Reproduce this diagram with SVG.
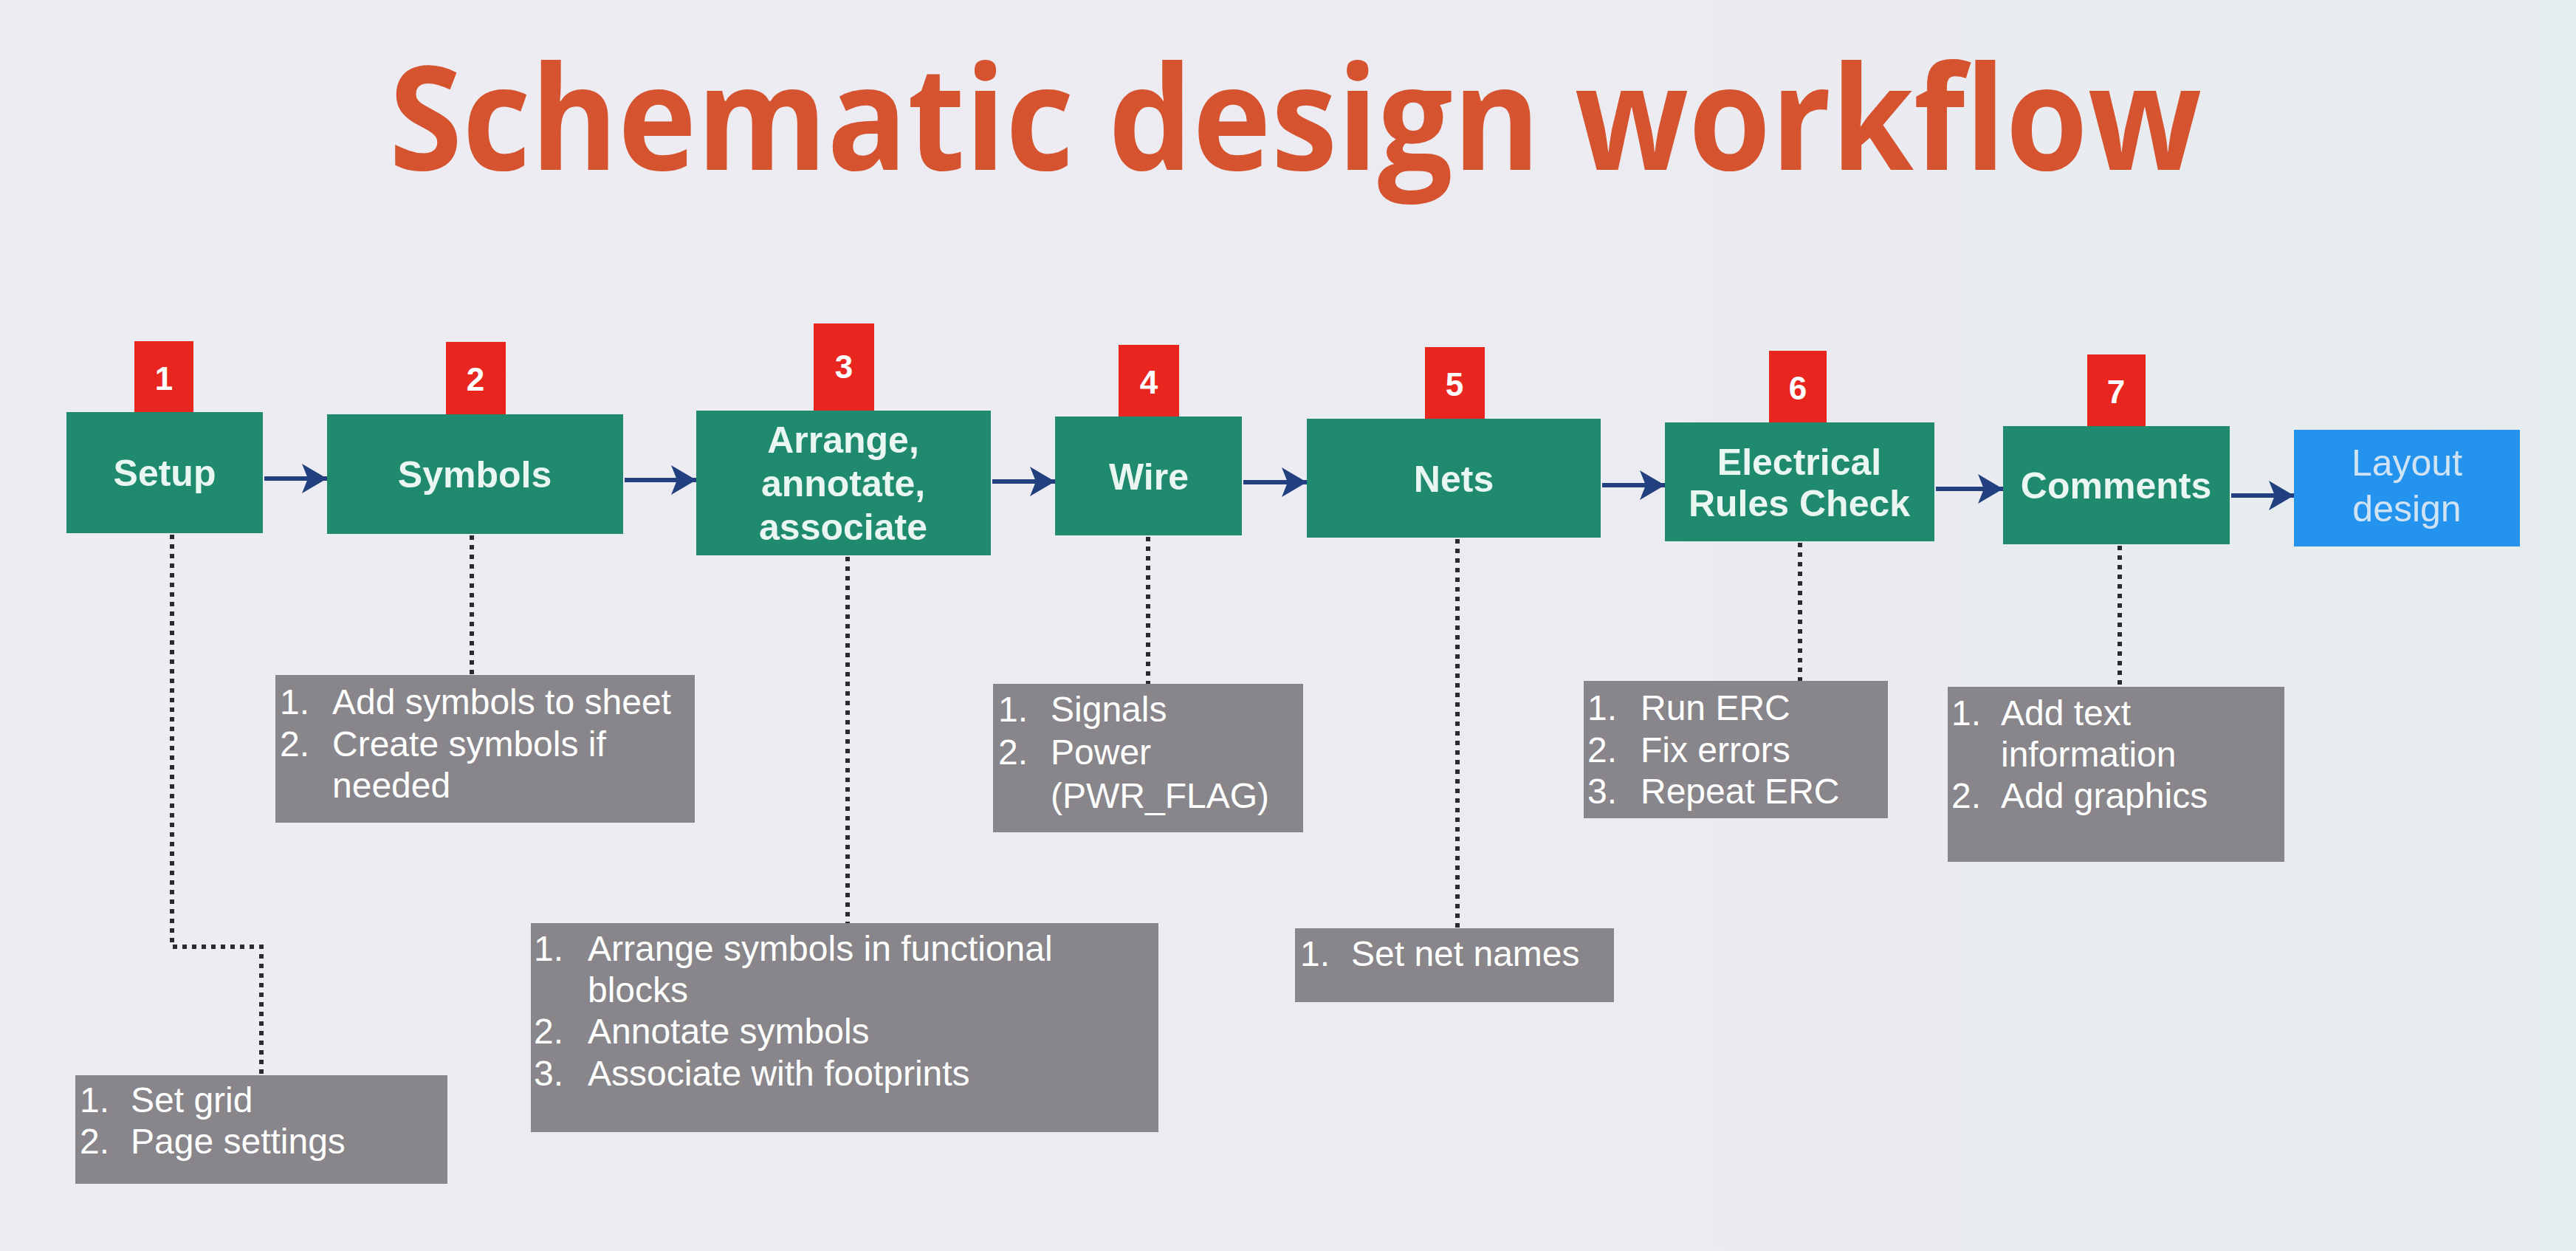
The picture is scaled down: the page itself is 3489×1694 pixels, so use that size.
<svg xmlns="http://www.w3.org/2000/svg" width="3489" height="1694" viewBox="0 0 3489 1694">
<defs>
<linearGradient id="bg" x1="0" y1="0" x2="1" y2="0">
<stop offset="0" stop-color="#EEECF3"/>
<stop offset="0.6" stop-color="#ECEBF2"/>
<stop offset="1" stop-color="#E5ECEE"/>
</linearGradient>
<marker id="arr" markerUnits="userSpaceOnUse" markerWidth="36" markerHeight="40" refX="34" refY="20" orient="auto">
<path d="M0,0 L34,20 L0,40 L8,20 Z" fill="#22407F"/>
</marker>
<style>
.step{fill:#1F8A6D}
.badge{fill:#E8251E}
.num{font-family:"Liberation Sans",Arial,sans-serif;font-weight:bold;font-size:44px;fill:#FFFFFF;text-anchor:middle}
.lbl{font-family:"Liberation Sans",Arial,sans-serif;font-weight:bold;font-size:50px;fill:#EAF6F2;text-anchor:middle}
.note{fill:#88868B}
.nt{font-family:"Liberation Sans",Arial,sans-serif;font-size:48px;fill:#FFFFFF}
.flow{stroke:#22407F;stroke-width:6;fill:none}
.dot{stroke:#2A2A32;stroke-width:6;fill:none;stroke-dasharray:6 7}
</style>
</defs>
<rect x="0" y="0" width="3489" height="1694" fill="url(#bg)"/>
<text x="527" y="230" font-family="'Open Sans',sans-serif" font-weight="bold" font-size="195" fill="#D5532F" textLength="2455" lengthAdjust="spacingAndGlyphs">Schematic design workflow</text>

<g id="connectors">
<path class="flow" d="M358,648 H443" marker-end="url(#arr)"/>
<path class="flow" d="M846,650 H943" marker-end="url(#arr)"/>
<path class="flow" d="M1344,652 H1429" marker-end="url(#arr)"/>
<path class="flow" d="M1684,653 H1770" marker-end="url(#arr)"/>
<path class="flow" d="M2170,657 H2255" marker-end="url(#arr)"/>
<path class="flow" d="M2622,662 H2713" marker-end="url(#arr)"/>
<path class="flow" d="M3022,671 H3107" marker-end="url(#arr)"/>
<path class="dot" d="M233,724 V1282 H354 V1456"/>
<path class="dot" d="M639,725 V914"/>
<path class="dot" d="M1148,754 V1250"/>
<path class="dot" d="M1555,727 V926"/>
<path class="dot" d="M1974,730 V1257"/>
<path class="dot" d="M2438,735 V922"/>
<path class="dot" d="M2871,739 V930"/>
</g>

<g id="step1">
<rect class="badge" x="182" y="462" width="80" height="97"/>
<text class="num" x="222" y="528">1</text>
<rect class="step" x="90" y="558" width="266" height="164"/>
<text class="lbl" x="223" y="658">Setup</text>
</g>
<g id="step2">
<rect class="badge" x="604" y="463" width="81" height="98"/>
<text class="num" x="644" y="529">2</text>
<rect class="step" x="443" y="561" width="401" height="162"/>
<text class="lbl" x="643" y="660">Symbols</text>
</g>
<g id="step3">
<rect class="badge" x="1102" y="438" width="82" height="118"/>
<text class="num" x="1143" y="512">3</text>
<rect class="step" x="943" y="556" width="399" height="196"/>
<text class="lbl" x="1142" y="613">Arrange,</text>
<text class="lbl" x="1142" y="672">annotate,</text>
<text class="lbl" x="1142" y="731">associate</text>
</g>
<g id="step4">
<rect class="badge" x="1515" y="467" width="82" height="97"/>
<text class="num" x="1556" y="533">4</text>
<rect class="step" x="1429" y="564" width="253" height="161"/>
<text class="lbl" x="1556" y="663">Wire</text>
</g>
<g id="step5">
<rect class="badge" x="1930" y="470" width="81" height="97"/>
<text class="num" x="1970" y="536">5</text>
<rect class="step" x="1770" y="567" width="398" height="161"/>
<text class="lbl" x="1969" y="666">Nets</text>
</g>
<g id="step6">
<rect class="badge" x="2396" y="475" width="78" height="97"/>
<text class="num" x="2435" y="541">6</text>
<rect class="step" x="2255" y="572" width="365" height="161"/>
<text class="lbl" x="2437" y="643">Electrical</text>
<text class="lbl" x="2437" y="699">Rules Check</text>
</g>
<g id="step7">
<rect class="badge" x="2827" y="480" width="79" height="97"/>
<text class="num" x="2866" y="546">7</text>
<rect class="step" x="2713" y="577" width="307" height="160"/>
<text class="lbl" x="2866" y="675">Comments</text>
</g>
<g id="layout">
<rect x="3107" y="582" width="306" height="158" fill="#2493EE"/>
<text class="lbl" x="3260" y="644" style="fill:#CFE3F5;font-weight:normal">Layout</text>
<text class="lbl" x="3260" y="706" style="fill:#CFE3F5;font-weight:normal">design</text>
</g>

<g id="note1">
<rect class="note" x="102" y="1456" width="504" height="147"/>
<text class="nt" x="108" y="1506">1.</text><text class="nt" x="177" y="1506">Set grid</text>
<text class="nt" x="108" y="1562">2.</text><text class="nt" x="177" y="1562">Page settings</text>
</g>
<g id="note2">
<rect class="note" x="373" y="914" width="568" height="200"/>
<text class="nt" x="379" y="967">1.</text><text class="nt" x="450" y="967">Add symbols to sheet</text>
<text class="nt" x="379" y="1024">2.</text><text class="nt" x="450" y="1024">Create symbols if</text>
<text class="nt" x="450" y="1080">needed</text>
</g>
<g id="note3">
<rect class="note" x="719" y="1250" width="850" height="283"/>
<text class="nt" x="723" y="1301">1.</text><text class="nt" x="796" y="1301">Arrange symbols in functional</text>
<text class="nt" x="796" y="1357">blocks</text>
<text class="nt" x="723" y="1413">2.</text><text class="nt" x="796" y="1413">Annotate symbols</text>
<text class="nt" x="723" y="1470">3.</text><text class="nt" x="796" y="1470">Associate with footprints</text>
</g>
<g id="note4">
<rect class="note" x="1345" y="926" width="420" height="201"/>
<text class="nt" x="1352" y="977">1.</text><text class="nt" x="1423" y="977">Signals</text>
<text class="nt" x="1352" y="1035">2.</text><text class="nt" x="1423" y="1035">Power</text>
<text class="nt" x="1423" y="1094">(PWR_FLAG)</text>
</g>
<g id="note5">
<rect class="note" x="1754" y="1257" width="432" height="100"/>
<text class="nt" x="1761" y="1308">1.</text><text class="nt" x="1830" y="1308">Set net names</text>
</g>
<g id="note6">
<rect class="note" x="2145" y="922" width="412" height="186"/>
<text class="nt" x="2150" y="975">1.</text><text class="nt" x="2222" y="975">Run ERC</text>
<text class="nt" x="2150" y="1032">2.</text><text class="nt" x="2222" y="1032">Fix errors</text>
<text class="nt" x="2150" y="1088">3.</text><text class="nt" x="2222" y="1088">Repeat ERC</text>
</g>
<g id="note7">
<rect class="note" x="2638" y="930" width="456" height="237"/>
<text class="nt" x="2643" y="982">1.</text><text class="nt" x="2710" y="982">Add text</text>
<text class="nt" x="2710" y="1038">information</text>
<text class="nt" x="2643" y="1094">2.</text><text class="nt" x="2710" y="1094">Add graphics</text>
</g>
</svg>
